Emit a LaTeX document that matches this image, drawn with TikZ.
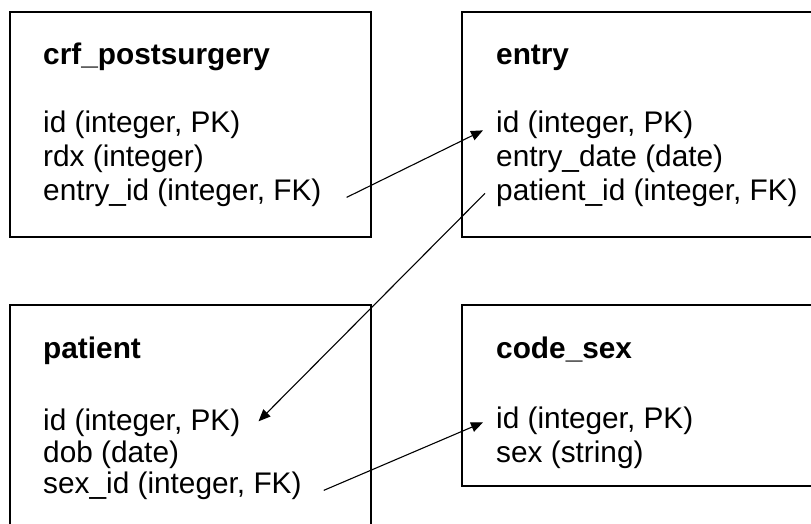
\documentclass[tikz,border=0pt]{standalone}
\usepackage{fontspec}
\setmainfont{Liberation Sans}
\usetikzlibrary{arrows.meta}
\begin{document}
\begin{tikzpicture}[x=1pt,y=-1pt,
  tblbox/.style={draw=black, line width=1.5pt, rectangle, inner sep=0pt, outer sep=0pt, anchor=north west},
  tbltitle/.style={anchor=base west, inner sep=0pt, font=\fontsize{29.8}{33}\selectfont\bfseries},
  tblfield/.style={anchor=base west, inner sep=0pt, font=\fontsize{29.8}{33}\selectfont},
  fk/.style={draw=black, line width=1.1pt, -{Triangle[length=12pt,width=10pt]}}]
\useasboundingbox (0,0) rectangle (811,524);
\clip (0,0) rectangle (811,524);

% table frames
\node[tblbox, minimum width=361pt, minimum height=225pt] (crf) at (10,12) {};
\node[tblbox, minimum width=368pt, minimum height=225pt] (entry) at (462,12) {};
\node[tblbox, minimum width=361pt, minimum height=240pt] (patient) at (10,305) {};
\node[tblbox, minimum width=368pt, minimum height=181pt] (codesex) at (462,305) {};

% crf_postsurgery
\node[tbltitle] (crf-t) at (43,65) {crf\_postsurgery};
\node[tblfield] (crf-f1) at (43,133) {id (integer, PK)};
\node[tblfield] (crf-f2) at (43,167) {rdx (integer)};
\node[tblfield] (crf-f3) at (43,200) {entry\_id (integer, FK)};

% entry
\node[tbltitle] (entry-t) at (496,65) {entry};
\node[tblfield] (entry-f1) at (496,133) {id (integer, PK)};
\node[tblfield] (entry-f2) at (496,167) {entry\_date (date)};
\node[tblfield] (entry-f3) at (496,200) {patient\_id (integer, FK)};

% patient
\node[tbltitle] (patient-t) at (43,358) {patient};
\node[tblfield] (patient-f1) at (43,430) {id (integer, PK)};
\node[tblfield] (patient-f2) at (43,462) {dob (date)};
\node[tblfield] (patient-f3) at (43,493) {sex\_id (integer, FK)};

% code_sex
\node[tbltitle] (codesex-t) at (496,358) {code\_sex};
\node[tblfield] (codesex-f1) at (496,428) {id (integer, PK)};
\node[tblfield] (codesex-f2) at (496,462) {sex (string)};

% foreign keys
\draw[fk] ([xshift=25pt]crf-f3.mid east) -- ([xshift=-13pt]entry-f1.mid west);
\draw[fk] ([xshift=-11pt,yshift=4pt]entry-f3.mid west) -- ([xshift=18pt,yshift=6pt]patient-f1.mid east);
\draw[fk] ([xshift=22pt]patient-f3.mid east) -- ([xshift=-13pt,yshift=3pt]codesex-f1.mid west);
\end{tikzpicture}
\end{document}
